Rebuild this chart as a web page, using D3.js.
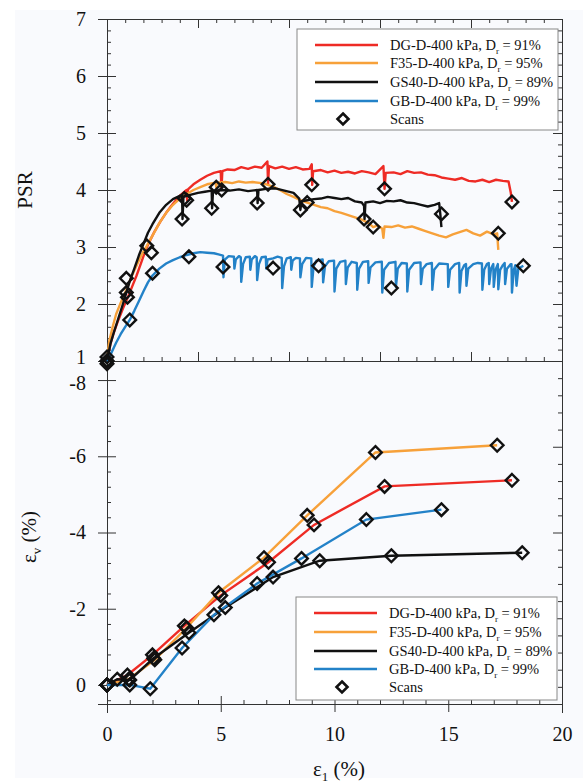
<!DOCTYPE html>
<html>
<head>
<meta charset="utf-8">
<script src="https://cdn.jsdelivr.net/npm/d3@7"></script>
<style>
  html, body { margin: 0; padding: 0; background: #fff; }
  svg text { font-family: "Liberation Serif", "Times New Roman", serif; fill: #111; }
</style>
</head>
<body>
<div id="chart"></div>
<script>
// ---- series names / colours ----
const seriesNames = ["DG-D-400 kPa, D", "F35-D-400 kPa, D", "GS40-D-400 kPa, D", "GB-D-400 kPa, D"];
const seriesDr = [" = 91%", " = 95%", " = 89%", " = 99%"];
const seriesColors = ["#ee2b25", "#f7a13a", "#111111", "#2382c8"];

// ---- top panel: PSR vs axial strain [strain %, PSR] ----
const dgPsr = [
  [0,1.0],[0.15,1.3],[0.3,1.5],[0.5,1.72],[0.7,1.92],[0.9,2.1],[1.1,2.3],[1.3,2.5],[1.5,2.72],[1.7,2.95],
  [1.9,3.12],[2.1,3.28],[2.35,3.45],[2.6,3.6],[2.9,3.76],[3.2,3.9],[3.5,4.0],[3.52,3.82],[3.56,4.01],[3.8,4.1],
  [4.1,4.18],[4.4,4.25],[4.7,4.3],[5.0,4.33],[5.03,4.0],[5.07,4.33],[5.3,4.36],[5.6,4.35],[5.9,4.4],[6.2,4.37],
  [6.5,4.41],[6.8,4.39],[7.05,4.5],[7.08,4.1],[7.12,4.42],[7.4,4.38],[7.7,4.41],[8.0,4.37],[8.3,4.4],[8.6,4.36],
  [8.9,4.37],[9.0,4.45],[9.02,4.09],[9.06,4.33],[9.4,4.35],[9.7,4.31],[10.0,4.34],[10.3,4.3],[10.6,4.32],[10.9,4.29],
  [11.2,4.33],[11.5,4.31],[11.8,4.28],[12.15,4.42],[12.2,4.02],[12.25,4.3],[12.6,4.31],[12.9,4.28],[13.2,4.33],[13.5,4.3],
  [13.8,4.31],[14.1,4.27],[14.4,4.26],[14.7,4.22],[15.0,4.2],[15.3,4.18],[15.6,4.21],[15.9,4.16],[16.2,4.15],[16.5,4.18],
  [16.8,4.14],[17.1,4.18],[17.4,4.16],[17.65,4.15],[17.75,3.95],[17.8,3.79]
];
const f35Psr = [
  [0,1.05],[0.1,1.35],[0.25,1.6],[0.4,1.82],[0.6,2.02],[0.85,2.25],[1.1,2.5],[1.35,2.72],[1.6,2.92],[1.75,3.02],
  [2.0,3.2],[2.3,3.42],[2.6,3.6],[2.9,3.74],[3.2,3.85],[3.5,3.93],[3.8,4.0],[4.1,4.05],[4.4,4.1],[4.78,4.13],
  [4.8,4.05],[4.84,4.13],[5.2,4.14],[5.5,4.12],[5.8,4.15],[6.1,4.13],[6.4,4.14],[6.8,4.12],[7.0,4.1],[7.3,4.06],
  [7.6,4.0],[7.9,3.93],[8.2,3.88],[8.5,3.82],[8.8,3.78],[9.1,3.74],[9.4,3.7],[9.7,3.68],[10.0,3.63],[10.3,3.6],
  [10.6,3.56],[10.9,3.52],[11.2,3.48],[11.5,3.42],[11.7,3.35],[11.9,3.38],[12.1,3.32],[12.15,3.16],[12.2,3.36],[12.5,3.35],
  [12.8,3.38],[13.1,3.34],[13.4,3.36],[13.7,3.32],[14.0,3.28],[14.3,3.24],[14.6,3.2],[14.9,3.17],[15.2,3.22],[15.5,3.26],
  [15.8,3.3],[16.1,3.24],[16.4,3.2],[16.7,3.27],[17.0,3.22],[17.15,3.24],[17.2,2.95]
];
const gs40Psr = [
  [0,1.0],[0.15,1.3],[0.3,1.5],[0.5,1.75],[0.7,2.0],[0.85,2.2],[1.0,2.4],[1.2,2.62],[1.4,2.85],[1.6,3.05],
  [1.8,3.25],[2.0,3.4],[2.3,3.6],[2.6,3.74],[2.9,3.84],[3.2,3.9],[3.3,3.9],[3.32,3.49],[3.36,3.88],[3.7,3.92],
  [4.0,3.95],[4.3,3.97],[4.6,3.99],[4.62,3.68],[4.66,3.98],[5.0,4.0],[5.4,3.99],[5.8,4.01],[6.2,3.98],[6.6,4.0],
  [6.62,3.77],[6.66,4.0],[7.0,4.02],[7.4,4.03],[7.8,3.99],[8.2,3.95],[8.45,3.85],[8.5,3.65],[8.55,3.8],[8.8,3.82],
  [9.1,3.84],[9.4,3.85],[9.7,3.88],[10.0,3.86],[10.3,3.84],[10.6,3.86],[10.9,3.8],[11.2,3.78],[11.3,3.72],[11.32,3.49],
  [11.36,3.78],[11.7,3.8],[12.0,3.77],[12.3,3.81],[12.6,3.8],[12.9,3.82],[13.2,3.78],[13.5,3.77],[13.8,3.74],[14.1,3.71],
  [14.4,3.74],[14.6,3.77],[14.65,3.58],[14.7,3.35]
];
const gbPsr = [
  [0,0.97],[0.2,1.15],[0.4,1.32],[0.6,1.47],[0.8,1.6],[1.0,1.72],[1.2,1.88],[1.4,2.05],[1.6,2.22],[1.8,2.38],
  [2.0,2.5],[2.3,2.62],[2.6,2.71],[2.9,2.77],[3.2,2.82],[3.5,2.86],[3.8,2.89],[4.1,2.91],[4.4,2.9],[4.7,2.89],
  [4.9,2.87],[5.1,2.85],[5.12,2.47],[5.18,2.78],[5.35,2.84],[5.58,2.83],[5.6,2.62],[5.66,2.78],[5.8,2.84],[5.88,2.82],
  [5.9,2.39],[5.98,2.7],[6.1,2.82],[6.28,2.83],[6.3,2.6],[6.36,2.78],[6.5,2.84],[6.58,2.82],[6.6,2.42],[6.68,2.7],
  [6.8,2.82],[6.98,2.83],[7.0,2.62],[7.06,2.78],[7.3,2.8],[7.5,2.83],[7.68,2.81],[7.7,2.28],[7.78,2.66],[7.9,2.8],
  [8.08,2.82],[8.1,2.6],[8.16,2.76],[8.3,2.81],[8.48,2.8],[8.5,2.47],[8.58,2.7],[8.75,2.81],[8.98,2.8],[9.0,2.3],
  [9.08,2.66],[9.2,2.76],[9.48,2.78],[9.5,2.38],[9.58,2.66],[9.75,2.75],[9.98,2.76],[10.0,2.22],[10.08,2.62],[10.25,2.74],
  [10.48,2.76],[10.5,2.35],[10.58,2.64],[10.75,2.74],[10.98,2.72],[11.0,2.25],[11.08,2.62],[11.25,2.74],[11.48,2.75],[11.5,2.37],
  [11.58,2.64],[11.8,2.73],[12.08,2.74],[12.1,2.2],[12.18,2.6],[12.4,2.72],[12.68,2.74],[12.7,2.3],[12.78,2.62],[12.95,2.72],
  [13.18,2.71],[13.2,2.22],[13.28,2.6],[13.5,2.72],[13.78,2.73],[13.8,2.35],[13.88,2.62],[14.05,2.7],[14.28,2.72],[14.3,2.25],
  [14.38,2.6],[14.6,2.71],[14.98,2.7],[15.0,2.3],[15.08,2.6],[15.3,2.7],[15.48,2.72],[15.5,2.2],[15.58,2.58],[15.7,2.68],
  [15.78,2.7],[15.8,2.32],[15.88,2.62],[16.1,2.7],[16.3,2.72],[16.48,2.71],[16.5,2.25],[16.58,2.6],[16.7,2.7],[16.78,2.72],
  [16.8,2.35],[16.88,2.62],[16.98,2.7],[17.0,2.3],[17.08,2.6],[17.18,2.7],[17.2,2.26],[17.28,2.6],[17.4,2.68],[17.48,2.72],
  [17.5,2.35],[17.58,2.62],[17.75,2.7],[17.78,2.7],[17.8,2.2],[17.88,2.6],[17.95,2.68],[18.0,2.32],[18.08,2.62],[18.3,2.67]
];

// scan markers on the top panel
const dgScanPsr = [[0,1.0],[0.9,2.12],[1.95,2.9],[3.5,3.82],[5.04,4.0],[7.08,4.1],[9.0,4.09],[12.2,4.02],[17.8,3.79]];
const f35ScanPsr = [[0,1.07],[0.85,2.2],[1.75,3.02],[3.4,3.85],[4.8,4.05],[8.8,3.78],[11.7,3.35],[17.2,3.24]];
const gs40ScanPsr = [[0,1.0],[0.85,2.45],[3.3,3.49],[4.6,3.68],[6.6,3.77],[8.5,3.65],[11.3,3.49],[14.7,3.58]];
const gbScanPsr = [[0,0.95],[1.0,1.72],[2.0,2.54],[3.6,2.83],[5.1,2.65],[7.3,2.63],[9.3,2.67],[12.5,2.28],[18.3,2.67]];

// ---- bottom panel: volumetric strain at scans [strain %, ev %] ----
const dgEv = [[0,0],[0.9,-0.26],[2.0,-0.79],[3.4,-1.55],[5.0,-2.35],[7.1,-3.22],[9.1,-4.2],[12.2,-5.21],[17.8,-5.37]];
const f35Ev = [[0,0],[0.95,-0.15],[2.1,-0.66],[3.5,-1.5],[4.9,-2.42],[6.9,-3.34],[8.8,-4.45],[11.8,-6.1],[17.15,-6.29]];
const gs40Ev = [[0,0],[0.45,-0.15],[1.0,-0.13],[2.05,-0.7],[3.6,-1.37],[5.2,-2.03],[7.3,-2.83],[9.35,-3.26],[12.5,-3.39],[18.25,-3.47]];
const gbEv = [[0,0],[1.0,0],[1.9,0.1],[3.3,-0.97],[4.7,-1.84],[6.6,-2.66],[8.55,-3.32],[11.4,-4.34],[14.7,-4.6]];

const psrSeries = [dgPsr, f35Psr, gs40Psr, gbPsr];
const psrScans = [dgScanPsr, f35ScanPsr, gs40ScanPsr, gbScanPsr];
const evSeries = [dgEv, f35Ev, gs40Ev, gbEv];

// ---- ticks ----
const psrMajor = [1, 2, 3, 4, 5, 6, 7];
const evMajor = [-8, -6, -4, -2, 0];
const strainMajor = [0, 5, 10, 15, 20];
const strainTopMajor = [4, 8, 12, 16];

const W = 583, H = 783;
const svg = d3.select("#chart").append("svg")
  .attr("width", W).attr("height", H);

svg.append("rect").attr("x", 15).attr("y", 10).attr("width", W - 15).attr("height", 768)
  .attr("fill", "#f9fafd");

const x = d3.scaleLinear().domain([0, 20]).range([107, 562]);
const yPsr = d3.scaleLinear().domain([1, 7]).range([361, 19]);
const yEv = d3.scaleLinear().domain([0.5, -8.5]).range([704, 361]);

const axisColor = "#333";
const fontSerif = '"Liberation Serif", "Times New Roman", serif';
const stepVals = (a, b, s) => d3.range(Math.round((b - a) / s) + 1).map(i => +(a + i * s).toFixed(4));
const notIn = (arr) => v => !arr.some(m => Math.abs(m - v) < 1e-6);

function styleAxis(g) {
  g.attr("font-family", fontSerif);
  g.select(".domain").attr("stroke", axisColor).attr("stroke-width", 1);
  g.selectAll(".tick line").attr("stroke", axisColor).attr("stroke-width", 1);
  g.selectAll(".tick text").attr("font-size", 20).attr("fill", "#111")
    .style("font-family", fontSerif);
}

// axis helper: major ticks + minor ticks, inward direction handled by sign
function addAxis(axisFn, scale, pos, major, minor, opts) {
  const isVert = axisFn === d3.axisLeft || axisFn === d3.axisRight;
  const tr = isVert ? `translate(${pos},0)` : `translate(0,${pos})`;

  const mg = svg.append("g").attr("transform", tr)
    .call(axisFn(scale).tickValues(minor.filter(notIn(major))).tickFormat("")
      .tickSize(-4).tickSizeOuter(0));
  styleAxis(mg);

  const ax = axisFn(scale).tickValues(major).tickSizeOuter(0);
  if (opts.labels) ax.tickFormat(d => String(d)).tickSize(9).tickPadding(opts.pad);
  else ax.tickFormat("").tickSize(-9);
  const g = svg.append("g").attr("transform", tr).call(ax);
  styleAxis(g);
  if (opts.labels && opts.cross) {
    if (isVert) g.selectAll(".tick line").attr("x1", axisFn === d3.axisLeft ? 9 : -9);
    else g.selectAll(".tick line").attr("y1", axisFn === d3.axisBottom ? -8 : 8).attr("y2", 8);
  }
  return g;
}

// top panel frame
const ly = addAxis(d3.axisLeft, yPsr, 107, psrMajor, stepVals(1, 7, 0.2), { labels: true, cross: true, pad: 12 });
ly.selectAll(".tick text").filter(d => d === 1).attr("dy", "0.1em");
addAxis(d3.axisRight, yPsr, 562, psrMajor, stepVals(1, 7, 0.2), { labels: false });
addAxis(d3.axisTop, x, 19, strainTopMajor, stepVals(0, 20, 0.8), { labels: false });
addAxis(d3.axisBottom, x, 361, strainTopMajor, stepVals(0, 20, 0.8), { labels: false });

// bottom panel frame
const le = addAxis(d3.axisLeft, yEv, 107, evMajor, stepVals(-8.4, 0.4, 0.4), { labels: true, cross: true, pad: 12 });
le.selectAll(".tick text").filter(d => d === -8).attr("dy", "0.45em");
addAxis(d3.axisRight, yEv, 562, stepVals(-8.5, 0.5, 2.25), stepVals(-8.5, 0.5, 0.45), { labels: false });
const bx = addAxis(d3.axisBottom, x, 704, strainMajor, stepVals(0, 20, 1), { labels: true, cross: true, pad: 14 });
bx.selectAll(".tick text").attr("dy", "0.71em");

// axis titles
svg.append("text")
  .attr("transform", "translate(32,190) rotate(-90)")
  .attr("text-anchor", "middle").attr("font-size", 21).text("PSR");

const evLabel = svg.append("text")
  .attr("transform", "translate(36,537) rotate(-90)")
  .attr("text-anchor", "middle").attr("font-size", 21);
evLabel.append("tspan").text("ε");
evLabel.append("tspan").attr("font-size", 13).attr("dy", 5).text("v");
evLabel.append("tspan").attr("dy", -5).text(" (%)");

const exLabel = svg.append("text")
  .attr("x", 339).attr("y", 776)
  .attr("text-anchor", "middle").attr("font-size", 21);
exLabel.append("tspan").text("ε");
exLabel.append("tspan").attr("font-size", 13).attr("dy", 5).text("1");
exLabel.append("tspan").attr("dy", -5).text(" (%)");

// diamond marker
const diamond = (r) => `M0,${-r}L${r},0L0,${r}L${-r},0Z`;

// ---- top panel curves ----
const linePsr = d3.line().x(d => x(d[0])).y(d => yPsr(d[1]));
psrSeries.forEach((s, i) => {
  svg.append("path").datum(s)
    .attr("d", linePsr)
    .attr("fill", "none")
    .attr("stroke", seriesColors[i])
    .attr("stroke-width", 2.4)
    .attr("stroke-linejoin", "round");
});
psrScans.forEach(s => {
  svg.append("g").selectAll("path").data(s).join("path")
    .attr("d", diamond(6.3))
    .attr("transform", d => `translate(${x(d[0])},${yPsr(d[1])})`)
    .attr("fill", "none").attr("stroke", "#111").attr("stroke-width", 2.4);
});

// ---- bottom panel curves ----
const lineEv = d3.line().x(d => x(d[0])).y(d => yEv(d[1]));
evSeries.forEach((s, i) => {
  svg.append("path").datum(s)
    .attr("d", lineEv)
    .attr("fill", "none")
    .attr("stroke", seriesColors[i])
    .attr("stroke-width", 2.4);
});
evSeries.forEach(s => {
  svg.append("g").selectAll("path").data(s).join("path")
    .attr("d", diamond(6.3))
    .attr("transform", d => `translate(${x(d[0])},${yEv(d[1])})`)
    .attr("fill", "none").attr("stroke", "#111").attr("stroke-width", 2.4);
});

// ---- legends ----
function legend(x0, y0, w, h, rowYs) {
  const g = svg.append("g");
  g.append("rect").attr("x", x0).attr("y", y0).attr("width", w).attr("height", h)
    .attr("fill", "#fff").attr("stroke", "#888").attr("stroke-width", 1);
  seriesNames.forEach((name, i) => {
    const ry = rowYs[i];
    g.append("line").attr("x1", x0 + 18).attr("x2", x0 + 81).attr("y1", ry).attr("y2", ry)
      .attr("stroke", seriesColors[i]).attr("stroke-width", 2.4);
    const t = g.append("text").attr("x", x0 + 93).attr("y", ry + 5).attr("font-size", 14.5);
    t.append("tspan").text(name);
    t.append("tspan").attr("font-size", 9).attr("dy", 4).text("r");
    t.append("tspan").attr("dy", -4).text(seriesDr[i]);
  });
  const sy = rowYs[4];
  g.append("path").attr("d", diamond(5.5))
    .attr("transform", `translate(${x0 + 46},${sy})`)
    .attr("fill", "#fff").attr("stroke", "#111").attr("stroke-width", 2.6);
  g.append("text").attr("x", x0 + 93).attr("y", sy + 5).attr("font-size", 14.5).text("Scans");
}
legend(297, 29, 261, 101, [45, 63, 82, 101, 119]);
legend(296, 597, 261, 103, [613, 632, 651, 669, 687]);
</script>
</body>
</html>
